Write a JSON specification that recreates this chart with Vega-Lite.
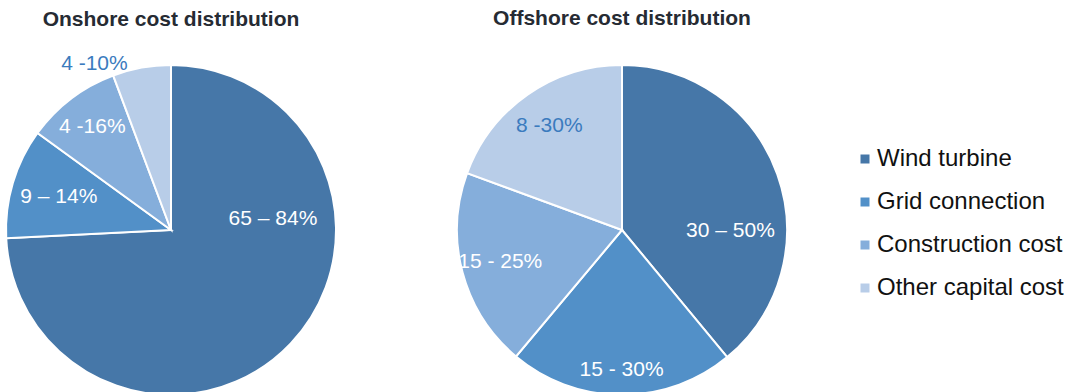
{
  "$schema": "https://vega.github.io/schema/vega-lite/v6.json",
  "padding": {"left": 2, "top": 8, "right": 0, "bottom": 0},
  "background": "white",
  "datasets": {
    "costs": [
      {"pie": "Onshore", "category": "Wind turbine", "share": 74.2, "range": "65 – 84%"},
      {"pie": "Onshore", "category": "Grid connection", "share": 10.8, "range": "9 – 14%"},
      {"pie": "Onshore", "category": "Construction cost", "share": 9.3, "range": "4 -16%"},
      {"pie": "Onshore", "category": "Other capital cost", "share": 5.7, "range": "4 -10%"},
      {"pie": "Offshore", "category": "Wind turbine", "share": 39.0, "range": "30 – 50%"},
      {"pie": "Offshore", "category": "Grid connection", "share": 22.1, "range": "15 - 30%"},
      {"pie": "Offshore", "category": "Construction cost", "share": 19.5, "range": "15 - 25%"},
      {"pie": "Offshore", "category": "Other capital cost", "share": 19.4, "range": "8 -30%"}
    ]
  },
  "config": {
    "view": {"stroke": null},
    "font": "Liberation Sans",
    "title": {"fontSize": 21, "fontWeight": "bold", "color": "#262B33", "anchor": "middle", "font": "Liberation Sans"},
    "legend": {
      "orient": "none",
      "legendX": 847,
      "legendY": 82,
      "labelFontSize": 24,
      "labelColor": "#111111",
      "labelFont": "Liberation Sans",
      "labelLimit": 0,
      "symbolType": "square",
      "symbolSize": 81,
      "symbolStrokeWidth": 0,
      "labelOffset": 0,
      "rowPadding": 19,
      "title": null
    }
  },
  "spacing": 113,
  "resolve": {"scale": {"color": "shared"}},
  "hconcat": [
    {
      "title": {"text": "Onshore cost distribution", "offset": 23},
      "width": 330,
      "height": 330,
      "data": {"name": "costs"},
      "transform": [{"filter": "datum.pie === 'Onshore'"}],
      "encoding": {
        "theta": {"field": "share", "type": "quantitative", "stack": true},
        "order": {"field": "share", "type": "quantitative", "sort": "descending"},
        "color": {
          "field": "category",
          "type": "nominal",
          "sort": ["Wind turbine", "Grid connection", "Construction cost", "Other capital cost"],
          "scale": {
            "domain": ["Wind turbine", "Grid connection", "Construction cost", "Other capital cost"],
            "range": ["#4677A8", "#5290C8", "#85AEDB", "#B8CDE8"]
          },
          "legend": {"title": null}
        }
      },
      "layer": [
        {"mark": {"type": "arc", "stroke": "white", "strokeWidth": 2}},
        {
          "mark": {"type": "text", "radius": 117, "fontSize": 21, "font": "Liberation Sans"},
          "encoding": {
            "text": {"condition": {"test": "datum.category === 'Grid connection'", "field": "range"}, "value": ""},
            "fill": {"value": "white"}
          }
        },
        {
          "mark": {"type": "text", "radius": 130, "fontSize": 21, "font": "Liberation Sans"},
          "encoding": {
            "text": {"condition": {"test": "datum.category === 'Construction cost'", "field": "range"}, "value": ""},
            "fill": {"value": "white"}
          }
        },
        {
          "mark": {"type": "text", "radius": 40, "dx": 73, "dy": -39, "fontSize": 21, "font": "Liberation Sans"},
          "encoding": {
            "text": {"condition": {"test": "datum.category === 'Wind turbine'", "field": "range"}, "value": ""},
            "fill": {"value": "white"}
          }
        },
        {
          "mark": {"type": "text", "radius": 110, "dx": -57, "dy": -58, "fontSize": 21, "font": "Liberation Sans"},
          "encoding": {
            "text": {"condition": {"test": "datum.category === 'Other capital cost'", "field": "range"}, "value": ""},
            "fill": {"value": "#3B7BBE"}
          }
        }
      ]
    },
    {
      "title": {"text": "Offshore cost distribution", "offset": 32},
      "width": 330,
      "height": 330,
      "data": {"name": "costs"},
      "transform": [{"filter": "datum.pie === 'Offshore'"}],
      "encoding": {
        "theta": {"field": "share", "type": "quantitative", "stack": true},
        "order": {"field": "share", "type": "quantitative", "sort": "descending"},
        "color": {
          "field": "category",
          "type": "nominal",
          "sort": ["Wind turbine", "Grid connection", "Construction cost", "Other capital cost"],
          "scale": {
            "domain": ["Wind turbine", "Grid connection", "Construction cost", "Other capital cost"],
            "range": ["#4677A8", "#5290C8", "#85AEDB", "#B8CDE8"]
          },
          "legend": {"title": null}
        }
      },
      "layer": [
        {"mark": {"type": "arc", "stroke": "white", "strokeWidth": 2}},
        {
          "mark": {"type": "text", "radius": 126, "fontSize": 21, "font": "Liberation Sans"},
          "encoding": {
            "text": {"condition": {"test": "datum.category === 'Construction cost'", "field": "range"}, "value": ""},
            "fill": {"value": "white"}
          }
        },
        {
          "mark": {"type": "text", "radius": 140, "fontSize": 21, "font": "Liberation Sans"},
          "encoding": {
            "text": {"condition": {"test": "datum.category === 'Grid connection'", "field": "range"}, "value": ""},
            "fill": {"value": "white"}
          }
        },
        {
          "mark": {"type": "text", "radius": 110, "dx": 5, "dy": 38, "fontSize": 21, "font": "Liberation Sans"},
          "encoding": {
            "text": {"condition": {"test": "datum.category === 'Wind turbine'", "field": "range"}, "value": ""},
            "fill": {"value": "white"}
          }
        },
        {
          "mark": {"type": "text", "radius": 127, "fontSize": 21, "font": "Liberation Sans"},
          "encoding": {
            "text": {"condition": {"test": "datum.category === 'Other capital cost'", "field": "range"}, "value": ""},
            "fill": {"value": "#3B7BBE"}
          }
        }
      ]
    }
  ]
}
